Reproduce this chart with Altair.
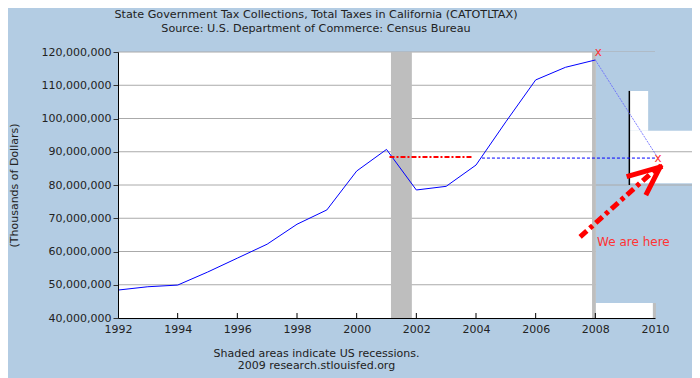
import altair as alt
import pandas as pd

M = 1_000_000
FONT = "DejaVu Sans"
BG = "#B3CCE3"
TXT = "#222222"

# ---- data (values in thousands of dollars, read in millions) ----
years = list(range(1992, 2009))
taxes_m = [48.4, 49.4, 49.9, 53.8, 58.0, 62.2, 68.2, 72.5, 84.2, 90.7,
           78.5, 79.6, 86.0, 99.0, 111.6, 115.4, 117.6]

x_tick_years = list(range(1992, 2011, 2))
y_tick_m = [40, 50, 60, 70, 80, 90, 100, 110, 120]
grid_m = [50, 60, 70, 80, 90, 100, 110, 120]

rec_start = [2001.15, 2007.89]
rec_end = [2001.85, 2008.02]

# annotations added to the picture
prev_peak_level_m = 88.4
prev_peak_from, prev_peak_to = 2001.1, 2003.9
now_level_m = 88.1
now_from, now_to = 2004.2, 2010.0
proj_x = [2008.0, 2010.1]
proj_y_m = [117.6, 88.1]
marker_x = [2008.1, 2010.1]
marker_y_m = [119.9, 88.1]

# pasted patches (x from, x to, y from, y to in millions)
blue_patch = ([2008.02], [2011.6], [40], [120])
white_patch = ([2009.14, 2009.14, 2008.02], [2011.6, 2009.77, 2009.93],
               [80.5, 96.33, 40], [96.33, 108.27, 44.5])
gray_patch = ([2009.93], [2010.03], [40], [44.5])

extra_grid_x = [2009.14, 2008.02]
extra_grid_x2 = [2011.6, 2011.6]
extra_grid_m = [90, 80]

vline_x = 2009.14
vline_y_m = [80.0, 108.3]

arrow_x = [2007.49, 2010.17, 2010.17]
arrow_y_m = [64.4, 85.4, 85.4]
arrow_x2 = [2010.05, 2009.13, 2009.73]
arrow_y2_m = [85.0, 82.7, 77.6]

note_x, note_y_m, note_text = 2008.06, 63.0, "We are here"

title_lines = ["State Government Tax Collections, Total Taxes in California (CATOTLTAX)",
               "Source: U.S. Department of Commerce: Census Bureau"]
footer_lines = ["Shaded areas indicate US recessions.",
                "2009 research.stlouisfed.org"]

# ---- encodings ----
x_axis = alt.Axis(values=x_tick_years, format="d", ticks=False, grid=False,
                  domainColor="black", labelFlush=False, labelPadding=5,
                  labelFont=FONT, labelFontSize=11, labelColor=TXT,
                  title=footer_lines, titleFont=FONT, titleFontSize=11,
                  titleFontWeight="normal", titleColor=TXT, titleX=198,
                  titleY=38, titleAlign="center", titleBaseline="alphabetic",
                  titleLineHeight=12, zindex=1)
y_axis = alt.Axis(values=[v * M for v in y_tick_m], format=",d", grid=False,
                  domainColor="black", tickColor="#333333", tickSize=5,
                  labelFlush=False, labelPadding=2, labelFont=FONT,
                  labelFontSize=11, labelColor=TXT,
                  title="(Thousands of Dollars)", titleFont=FONT,
                  titleFontSize=11, titleFontWeight="normal", titleColor=TXT,
                  titlePadding=22, zindex=1)

xs = alt.Scale(domain=[1992, 2010], nice=False, zero=False)
ys = alt.Scale(domain=[40 * M, 120 * M], nice=False, zero=False)
X = alt.X("x:Q", scale=xs, axis=x_axis)
Y = alt.Y("y:Q", scale=ys, axis=y_axis)


def seg_df(x, x2, y, y2):
    return pd.DataFrame({"x": x, "x2": x2, "y": [v * M for v in y],
                         "y2": [v * M for v in y2]})


def segs(df, mark):
    return alt.Chart(df).mark_rule(**mark).encode(x=X, x2="x2", y=Y, y2="y2")


def rects(df, color):
    return alt.Chart(df).mark_rect(color=color).encode(x=X, x2="x2", y=Y, y2="y2")


grid = segs(seg_df([1992] * len(grid_m), [2010] * len(grid_m), grid_m, grid_m),
            dict(color="#AAAAAA", strokeWidth=1))
rec = rects(seg_df(rec_start, rec_end, [40] * 2, [120] * 2), "#BEBEBE")
p_blue = rects(seg_df(*blue_patch), BG)
p_white = rects(seg_df(*white_patch), "white")
p_gray = rects(seg_df(*gray_patch), "#BEBEBE")
extra = segs(seg_df(extra_grid_x, extra_grid_x2, extra_grid_m, extra_grid_m),
             dict(color="#AAAAAA", strokeWidth=1))
n_in = len(x_tick_years) - 2
ticks = segs(seg_df(x_tick_years[1:-1], x_tick_years[1:-1], [40] * n_in, [41.5] * n_in),
             dict(color="black", strokeWidth=1))
vline = segs(seg_df([vline_x], [vline_x], [vline_y_m[0]], [vline_y_m[1]]),
             dict(color="black", strokeWidth=1.5))

line = alt.Chart(pd.DataFrame({"x": years, "y": [v * M for v in taxes_m]})).mark_line(
    color="#0000FF", strokeWidth=1).encode(x=X, y=Y)

red_dash = segs(seg_df([prev_peak_from], [prev_peak_to], [prev_peak_level_m], [prev_peak_level_m]),
                dict(color="#FF0000", strokeWidth=2, strokeDash=[5, 2, 2, 2]))
blue_dash = segs(seg_df([now_from], [now_to], [now_level_m], [now_level_m]),
                 dict(color="#0000FF", strokeWidth=1, strokeDash=[3, 2]))
proj = segs(seg_df([proj_x[0]], [proj_x[1]], [proj_y_m[0]], [proj_y_m[1]]),
            dict(color="#6060FF", strokeWidth=1, strokeDash=[2, 1], opacity=0.8))

markers = alt.Chart(pd.DataFrame({"x": marker_x, "y": [v * M for v in marker_y_m],
                                  "t": ["x", "x"]})).mark_text(
    color="#FF3333", font=FONT, fontSize=12, baseline="middle").encode(x=X, y=Y, text="t:N")

shaft = segs(seg_df(arrow_x[:1], arrow_x2[:1], arrow_y_m[:1], arrow_y2_m[:1]),
             dict(color="#FF0000", strokeWidth=5, strokeDash=[9, 4, 4, 4]))
head = segs(seg_df(arrow_x[1:], arrow_x2[1:], arrow_y_m[1:], arrow_y2_m[1:]),
            dict(color="#FF0000", strokeWidth=5, strokeCap="square"))

note = alt.Chart(pd.DataFrame({"x": [note_x], "y": [note_y_m * M], "t": [note_text]})).mark_text(
    color="#FF3333", font=FONT, fontSize=12, align="left", baseline="middle").encode(
    x=X, y=Y, text="t:N")

chart = alt.layer(grid, rec, p_blue, p_white, p_gray, extra, ticks, vline, line,
                  red_dash, blue_dash, proj, markers, shaft, head, note).properties(
    width=537, height=266,
    autosize=alt.AutoSizeParams(type="none"),
    padding={"left": 110, "top": 44, "right": 37, "bottom": 60},
    background=BG,
    title=alt.TitleParams(text=title_lines, font=FONT, fontSize=11.2, fontWeight="normal",
                          color=TXT, anchor="middle", dx=-70.5, offset=12, lineHeight=14),
).configure_view(fill="white", stroke=None)

chart.save("out.html", embed_options={"renderer": "svg", "actions": False})
